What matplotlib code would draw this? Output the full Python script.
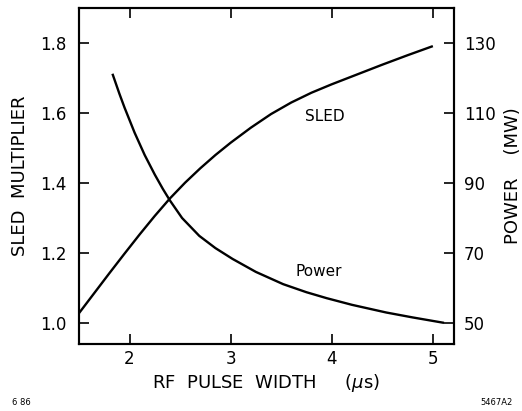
import matplotlib.pyplot as plt

# SLED multiplier vs RF pulse width (left axis)
sled_width = [1.50, 1.65, 1.80, 1.95, 2.10, 2.25, 2.40, 2.55, 2.70, 2.85,
              3.00, 3.20, 3.40, 3.60, 3.80, 4.00, 4.25, 4.50, 4.75, 4.99]
sled_mult = [1.028, 1.085, 1.142, 1.198, 1.253, 1.306, 1.356, 1.401, 1.442, 1.480,
             1.515, 1.558, 1.597, 1.630, 1.658, 1.682, 1.710, 1.738, 1.765, 1.790]

# Klystron power vs RF pulse width (right axis, MW)
power_width = [1.835, 1.90, 1.95, 2.05, 2.15, 2.25, 2.33, 2.40, 2.52, 2.69,
               2.85, 3.02, 3.25, 3.52, 3.75, 3.95, 4.20, 4.54, 4.80, 5.10]
power_mw = [120.9, 115.5, 111.6, 104.4, 98.0, 92.4, 88.3, 85.0, 80.0, 74.9,
            71.4, 68.3, 64.6, 61.1, 58.8, 57.1, 55.2, 53.0, 51.6, 50.1]

x_ticks = [2, 3, 4, 5]
left_ticks = [1.0, 1.2, 1.4, 1.6, 1.8]
right_ticks = [50, 70, 90, 110, 130]

fig = plt.figure(figsize=(5.22, 4.11), dpi=100)
ax = fig.add_axes([0.1513, 0.163, 0.7184, 0.8175])
ax2 = ax.twinx()

ax.plot(sled_width, sled_mult, color="black", lw=1.7)
ax2.plot(power_width, power_mw, color="black", lw=1.7)

ax.set_xlim(1.5, 5.21)
ax.set_ylim(0.94, 1.90)
ax2.set_ylim(44, 140)

ax.set_xticks(x_ticks)
ax.set_xticklabels([str(t) for t in x_ticks])
ax.set_yticks(left_ticks)
ax.set_yticklabels([f"{t:.1f}" for t in left_ticks])
ax2.set_yticks(right_ticks)
ax2.set_yticklabels([str(t) for t in right_ticks])

ax.tick_params(axis="x", direction="in", top=True, length=7, width=1.2,
               labelsize=12, pad=4)
ax.tick_params(axis="y", direction="in", length=7, width=1.2,
               labelsize=12, pad=9)
ax2.tick_params(axis="y", direction="in", length=7, width=1.2,
                labelsize=12, pad=7)

for a in (ax, ax2):
    for s in a.spines.values():
        s.set_linewidth(1.5)

ax.set_xlabel("RF  PULSE  WIDTH     ($\\mu$s)", fontsize=13, labelpad=3)
ax.set_ylabel("SLED  MULTIPLIER", fontsize=13, labelpad=8)
ax2.set_ylabel("POWER    (MW)", fontsize=13, labelpad=6)

ax.text(3.93, 1.59, "SLED", fontsize=11, ha="center", va="center")
ax.text(3.87, 1.146, "Power", fontsize=11, ha="center", va="center")

fig.text(0.023, 0.015, "6 86", fontsize=6)
fig.text(0.92, 0.015, "5467A2", fontsize=6)

fig.savefig("out.png", dpi=100)
